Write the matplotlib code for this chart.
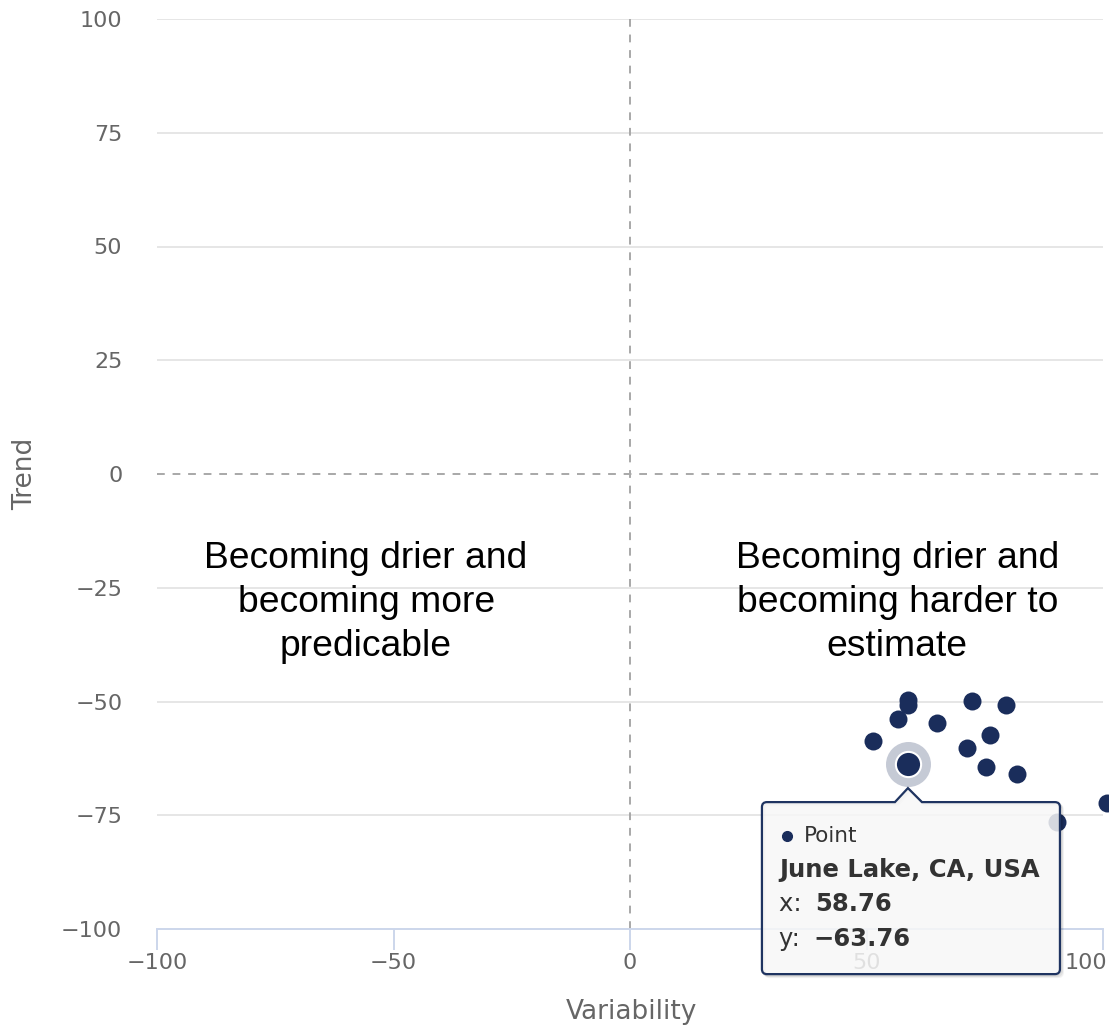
import matplotlib
matplotlib.use("Agg")
import matplotlib.pyplot as plt
from matplotlib.path import Path
from matplotlib.patches import PathPatch
from matplotlib.transforms import IdentityTransform, ScaledTranslation

# ---- data ----
variability = [58.7, 58.7, 56.7, 51.3, 65.0, 72.3, 79.4, 76.1, 71.3, 75.2, 81.9, 100.8, 90.2]
trend = [-49.7, -50.8, -53.9, -58.6, -54.8, -49.9, -50.8, -57.3, -60.3, -64.4, -65.9, -72.4, -76.5]

hover_name = "June Lake, CA, USA"
hover_x = 58.76
hover_y = -63.76
hover_series = "Point"

y_ticks = [-100, -75, -50, -25, 0, 25, 50, 75, 100]
x_ticks = [-100, -50, 0, 50, 100]

quadrant_notes = [
    (-55.8, "Becoming drier and\nbecoming more\npredicable"),
    (56.5, "Becoming drier and\nbecoming harder to\nestimate"),
]
note_y = -28.3

W, H = 1109, 1028
navy = "#1a2d5b"
label_grey = "#666666"

fig = plt.figure(figsize=(W / 100, H / 100), dpi=100)
ax = fig.add_axes([157 / W, 1 - 929 / H, (1103 - 157) / W, (929 - 19) / H])
ax.set_xlim(-100, 100)
ax.set_ylim(-100, 100)

for side in ["top", "right", "left"]:
    ax.spines[side].set_visible(False)
ax.spines["bottom"].set_color("#ccd6eb")
ax.spines["bottom"].set_linewidth(1.4)

ax.set_xticks(x_ticks)
ax.set_yticks(y_ticks)
ax.set_xticklabels([str(v).replace("-", "\u2212") for v in x_ticks])
ax.set_yticklabels([str(v).replace("-", "\u2212") for v in y_ticks])
ax.tick_params(axis="x", length=15, width=1.4, color="#ccd6eb", pad=2,
               labelsize=16, labelcolor=label_grey)
ax.tick_params(axis="y", length=0, pad=25, labelsize=16, labelcolor=label_grey)

# last x label is pushed inside the chart, like the reference
last = ax.get_xticklabels()[-1]
last.set_horizontalalignment("right")
last.set_transform(last.get_transform() + ScaledTranslation(4 / 100, 0, fig.dpi_scale_trans))

# grid, the zero line is a dashed plot line instead
for v in y_ticks:
    if v in (0, -100):
        continue
    ax.axhline(v, color="#e6e6e6", lw=1.4, zorder=0)
ax.axhline(0, color="#a8a8a8", lw=1.4, dashes=(4, 4), zorder=1)
ax.axvline(0, color="#a8a8a8", lw=1.4, dashes=(4, 4), zorder=1)

fig.text(631 / W, 1 - 1012 / H, "Variability", ha="center", va="center",
         fontsize=19, color=label_grey)
fig.text(25 / W, 1 - 474 / H, "Trend", ha="center", va="center",
         rotation=90, fontsize=19, color=label_grey)

for nx, txt in quadrant_notes:
    ax.text(nx, note_y, txt, ha="center", va="center", multialignment="center",
            fontsize=26.8, family="Liberation Sans", color="black",
            linespacing=1.34, zorder=2)

ax.scatter(variability, trend, s=168, color=navy, linewidths=0,
           zorder=3, clip_on=False)

# hovered point with halo
ax.scatter([hover_x], [hover_y], s=1050, color=navy, alpha=0.25,
           linewidths=0, zorder=4, clip_on=False)
ax.scatter([hover_x], [hover_y], s=330, color=navy, edgecolors="white",
           linewidths=1.5, zorder=5, clip_on=False)

# tooltip, drawn in pixel space below the hovered point
px, py = ax.transData.transform((hover_x, hover_y))
left, right = px - 146, px + 152
top, bottom = py - 38, py - 210
tip_y = py - 24
r = 5


def tooltip_path(dx, dy):
    L, R, T, B = left + dx, right + dx, top + dy, bottom + dy
    tx = px + dx
    verts = [
        (L + r, T), (tx - 13, T), (tx, tip_y + dy), (tx + 14, T), (R - r, T),
        (R, T), (R, T - r),
        (R, B + r),
        (R, B), (R - r, B),
        (L + r, B),
        (L, B), (L, B + r),
        (L, T - r),
        (L, T), (L + r, T),
        (L + r, T),
    ]
    codes = [Path.MOVETO, Path.LINETO, Path.LINETO, Path.LINETO, Path.LINETO,
             Path.CURVE3, Path.CURVE3,
             Path.LINETO,
             Path.CURVE3, Path.CURVE3,
             Path.LINETO,
             Path.CURVE3, Path.CURVE3,
             Path.LINETO,
             Path.CURVE3, Path.CURVE3,
             Path.CLOSEPOLY]
    return Path(verts, codes)


for k, a in [(3, 0.05), (2, 0.08), (1, 0.1)]:
    fig.add_artist(PathPatch(tooltip_path(k, -k), transform=IdentityTransform(),
                             facecolor="none", edgecolor="black", alpha=a,
                             lw=1.5, zorder=9))
fig.add_artist(PathPatch(tooltip_path(0, 0), transform=IdentityTransform(),
                         facecolor="#f7f7f7", alpha=0.85, edgecolor="none",
                         zorder=10))
fig.add_artist(PathPatch(tooltip_path(0, 0), transform=IdentityTransform(),
                         facecolor="none", edgecolor="#1f3461", lw=1.6,
                         zorder=11))

text_x = left + 17
row = [top - 34, top - 68, top - 102, top - 137]
tip_kw = dict(transform=IdentityTransform(), va="center", color="#333333", zorder=12)
fig.add_artist(plt.Line2D([text_x + 8], [row[0]], marker="o", ms=7,
                          color=navy, lw=0, transform=IdentityTransform(),
                          zorder=12))
fig.text(text_x + 25, row[0], hover_series, fontsize=15.5, **tip_kw)
fig.text(text_x, row[1], hover_name, fontsize=17.5, fontweight="bold", **tip_kw)
fig.text(text_x, row[2], "x: ", fontsize=17.5, **tip_kw)
fig.text(text_x + 36, row[2], f"{hover_x:.2f}", fontsize=17.5,
         fontweight="bold", **tip_kw)
fig.text(text_x, row[3], "y: ", fontsize=17.5, **tip_kw)
fig.text(text_x + 34, row[3], f"{hover_y:.2f}".replace("-", "\u2212"),
         fontsize=17.5, fontweight="bold", **tip_kw)

fig.savefig("out.png", dpi=100)
